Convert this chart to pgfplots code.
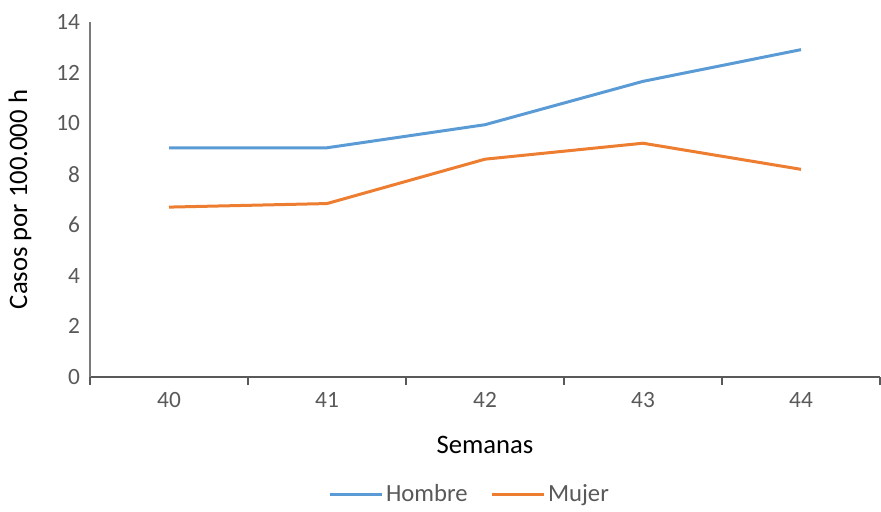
\documentclass[border=0pt]{standalone}
\usepackage{pgfplots}
\pgfplotsset{compat=1.18}
\usepackage{fontspec}
\setmainfont{Carlito}
\definecolor{hombre}{HTML}{5B9BD5}
\definecolor{mujer}{HTML}{ED7D31}
\definecolor{txtgray}{HTML}{595959}
\begin{document}
\begin{tikzpicture}
\useasboundingbox (-67.5pt,-100.5pt) rectangle (593.25pt,282.75pt);
\begin{axis}[
    at={(0pt,0pt)}, anchor=south west,
    scale only axis,
    width=592.5pt, height=266.25pt,
    xmin=-0.5, xmax=4.5,
    ymin=0, ymax=14,
    ytick={0,2,...,14},
    xtick={0,1,2,3,4},
    xticklabels={40,41,42,43,44},
    minor xtick={-0.5,0.5,1.5,2.5,3.5,4.5},
    major tick length=0pt,
    minor tick length=6pt,
    tick align=outside,
    axis x line*=bottom,
    axis y line*=left,
    x axis line style={-, draw=txtgray, line width=1pt},
    y axis line style={-, draw=txtgray!80, line width=0.8pt},
    minor tick style={draw=txtgray, line width=1pt},
    tick label style={font=\fontsize{17.5}{20}\selectfont, text=txtgray},
    /pgf/number format/assume math mode=true,
    xticklabel style={yshift=-8pt},
    yticklabel style={xshift=-4pt},
    xlabel={Semanas},
    ylabel={Casos por 100.000 h},
    label style={font=\fontsize{20}{24}\selectfont, text=black},
    xlabel style={at={(axis description cs:0.5,0)}, anchor=center, yshift=-51pt},
    ylabel style={at={(axis description cs:-0.0886,0.5)}, anchor=center},
    legend style={at={(axis description cs:0.481,0)}, anchor=center, yshift=-88pt,
        draw=none, legend columns=2, font=\fontsize{18.5}{22}\selectfont, text=txtgray,
        inner sep=0pt,
        /tikz/every even column/.append style={column sep=15pt}},
    legend image code/.code={\draw[#1, line width=2.25pt] (0pt,0pt) -- (39pt,0pt);},
]
\addplot[color=hombre, line width=2.25pt] coordinates {(0,9.04) (1,9.04) (2,9.95) (3,11.66) (4,12.91)};
\addlegendentry{Hombre}
\addplot[color=mujer, line width=2.25pt] coordinates {(0,6.70) (1,6.84) (2,8.59) (3,9.22) (4,8.19)};
\addlegendentry{Mujer}
\end{axis}
\end{tikzpicture}
\end{document}
